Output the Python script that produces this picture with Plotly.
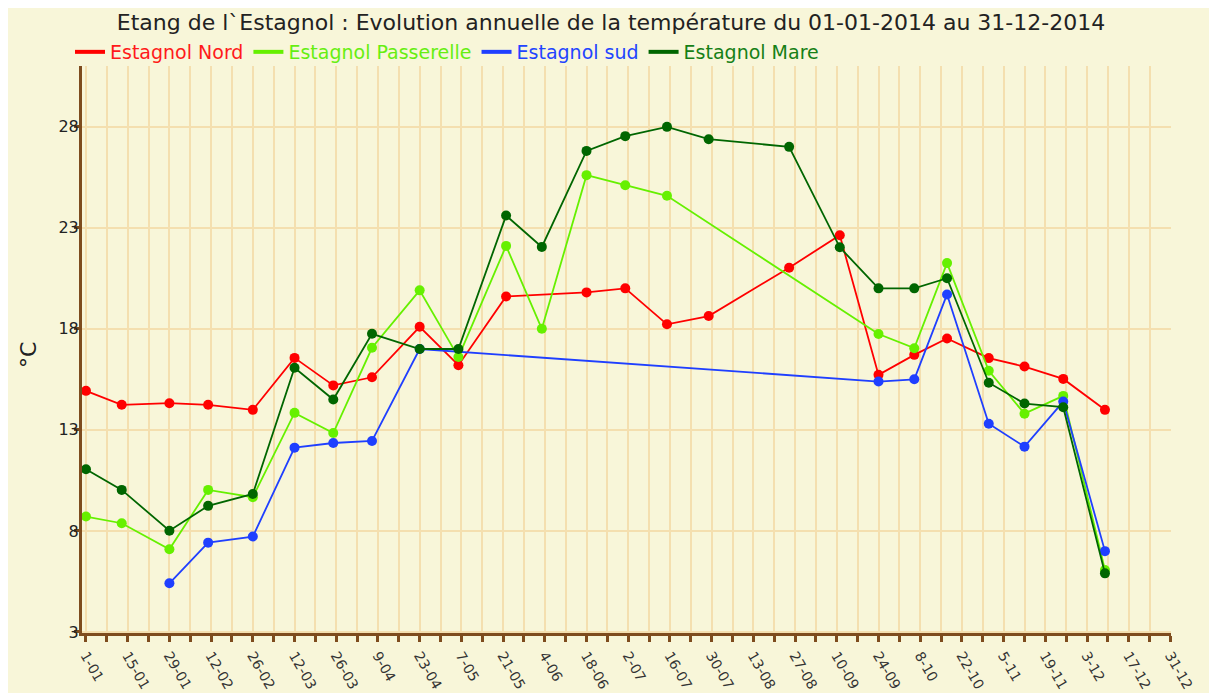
import plotly.graph_objects as go

# ---- data ----
nord_dates = ["2014-01-01", "2014-01-13", "2014-01-29", "2014-02-11", "2014-02-26",
              "2014-03-12", "2014-03-25", "2014-04-07", "2014-04-23", "2014-05-06",
              "2014-05-22", "2014-06-18", "2014-07-01", "2014-07-15", "2014-07-29",
              "2014-08-25", "2014-09-11", "2014-09-24", "2014-10-06", "2014-10-17",
              "2014-10-31", "2014-11-12", "2014-11-25", "2014-12-09"]
nord_vals = [14.93, 14.24, 14.32, 14.24, 13.99, 16.56, 15.2, 15.6, 18.1, 16.2,
             19.6, 19.8, 20.0, 18.22, 18.63, 21.02, 22.63, 15.72, 16.71, 17.52,
             16.55, 16.13, 15.52, 13.99]

pass_dates = ["2014-01-01", "2014-01-13", "2014-01-29", "2014-02-11", "2014-02-26",
              "2014-03-12", "2014-03-25", "2014-04-07", "2014-04-23", "2014-05-06",
              "2014-05-22", "2014-06-03", "2014-06-18", "2014-07-01", "2014-07-15",
              "2014-09-24", "2014-10-06", "2014-10-17", "2014-10-31", "2014-11-12",
              "2014-11-25", "2014-12-09"]
pass_vals = [8.71, 8.38, 7.09, 10.03, 9.67, 13.84, 12.84, 17.06, 19.9, 16.6,
             22.1, 18.0, 25.6, 25.1, 24.58, 17.74, 17.04, 21.25, 15.92, 13.8,
             14.68, 6.07]

sud_dates = ["2014-01-29", "2014-02-11", "2014-02-26", "2014-03-12", "2014-03-25",
             "2014-04-07", "2014-04-23", "2014-09-24", "2014-10-06", "2014-10-17",
             "2014-10-31", "2014-11-12", "2014-11-25", "2014-12-09"]
sud_vals = [5.41, 7.42, 7.72, 12.12, 12.35, 12.45, 17.0, 15.39, 15.5, 19.7,
            13.3, 12.17, 14.4, 7.0]

mare_dates = ["2014-01-01", "2014-01-13", "2014-01-29", "2014-02-11", "2014-02-26",
              "2014-03-12", "2014-03-25", "2014-04-07", "2014-04-23", "2014-05-06",
              "2014-05-22", "2014-06-03", "2014-06-18", "2014-07-01", "2014-07-15",
              "2014-07-29", "2014-08-25", "2014-09-11", "2014-09-24", "2014-10-06",
              "2014-10-17", "2014-10-31", "2014-11-12", "2014-11-25", "2014-12-09"]
mare_vals = [11.05, 10.03, 8.01, 9.24, 9.83, 16.07, 14.5, 17.75, 17.0, 17.0,
             23.6, 22.05, 26.8, 27.53, 27.99, 27.38, 27.0, 22.03, 20.0, 20.0,
             20.5, 15.33, 14.3, 14.12, 5.9]

series = [
    ("Estagnol Nord", nord_dates, nord_vals, "#FF0000"),
    ("Estagnol Passerelle", pass_dates, pass_vals, "#66F000"),
    ("Estagnol sud", sud_dates, sud_vals, "#1F3FFF"),
    ("Estagnol Mare", mare_dates, mare_vals, "#006600"),
]
legend_colors = ["#FF1A1A", "#66EE11", "#2244FF", "#168016"]

y_ticks = [3, 8, 13, 18, 23, 28]

title_text = "Etang de l`Estagnol : Evolution annuelle de la température du 01-01-2014 au 31-12-2014"

# ---- style ----
BG = "#F8F6D9"
GRID = "#F4DFAF"
AXIS = "#7E4C1E"
FONT = "DejaVu Sans"

# page has an 8px body margin; figure sized to fill the rest of the window
W, H = 1209, 685
L, R, T, B = 74, 46, 58, 60
pw, ph = W - L - R, H - T - B

fig = go.Figure()

for (name, xs, ys, col) in series:
    fig.add_trace(go.Scatter(
        x=xs, y=ys, mode="lines+markers", name=name, showlegend=False,
        line=dict(color=col, width=1.8),
        marker=dict(color=col, size=10),
    ))

for (name, xs, ys, col), lc in zip(series, legend_colors):
    fig.add_trace(go.Scatter(
        x=[None], y=[None], mode="lines",
        name=f"<span style='color:{lc}'>{name}</span>",
        line=dict(color=col, width=4),
    ))

fig.add_annotation(text="°C", xref="paper", yref="paper",
                   x=(20 - L) / pw, y=(H - B - 347) / ph, textangle=-90,
                   xanchor="center", yanchor="middle",
                   showarrow=False, font=dict(family=FONT, size=22, color="#222222"))

day = 86400000
fig.update_layout(
    width=W, height=H,
    margin=dict(l=L, r=R, t=T, b=B, autoexpand=False),
    paper_bgcolor=BG,
    plot_bgcolor=BG,
    font=dict(family=FONT, color="#222222"),
    title=dict(text=title_text, x=(603 - L) / pw, xanchor="center", xref="paper",
               y=1 - 14 / H, yanchor="middle", yref="container",
               font=dict(family=FONT, size=22, color="#222222")),
    legend=dict(orientation="h", x=(62 - L) / pw, xanchor="left",
                y=(H - B - 44) / ph, yanchor="middle",
                bgcolor="rgba(0,0,0,0)", font=dict(family=FONT, size=19),
                itemwidth=30, tracegroupgap=0),
    xaxis=dict(
        type="date", automargin=False,
        range=["2013-12-30 16:00", "2014-12-31 04:00"],
        tick0="2014-01-01", dtick=14 * day, tickformat="%-d-%m",
        tickangle=60, tickfont=dict(family=FONT, size=14, color="#333333"),
        ticks="outside", ticklen=6, tickwidth=3, tickcolor=AXIS,
        showline=True, linewidth=3, linecolor=AXIS,
        showgrid=True, gridcolor=GRID, gridwidth=1.5,
        zeroline=False,
        minor=dict(tick0="2014-01-01", dtick=7 * day, showgrid=True,
                   gridcolor=GRID, gridwidth=1.5,
                   ticks="outside", ticklen=6, tickwidth=3, tickcolor=AXIS),
    ),
    yaxis=dict(
        range=[2.95, 31.0], automargin=False,
        tickvals=y_ticks, ticktext=[str(v) for v in y_ticks],
        tickfont=dict(family=FONT, size=16, color="#222222"),
        ticks="outside", ticklen=5, tickwidth=3, tickcolor=AXIS,
        ticklabelstandoff=-8,
        showline=True, linewidth=3, linecolor=AXIS,
        showgrid=True, gridcolor=GRID, gridwidth=1.5,
        zeroline=False,
    ),
)

fig.write_html("out.html")
